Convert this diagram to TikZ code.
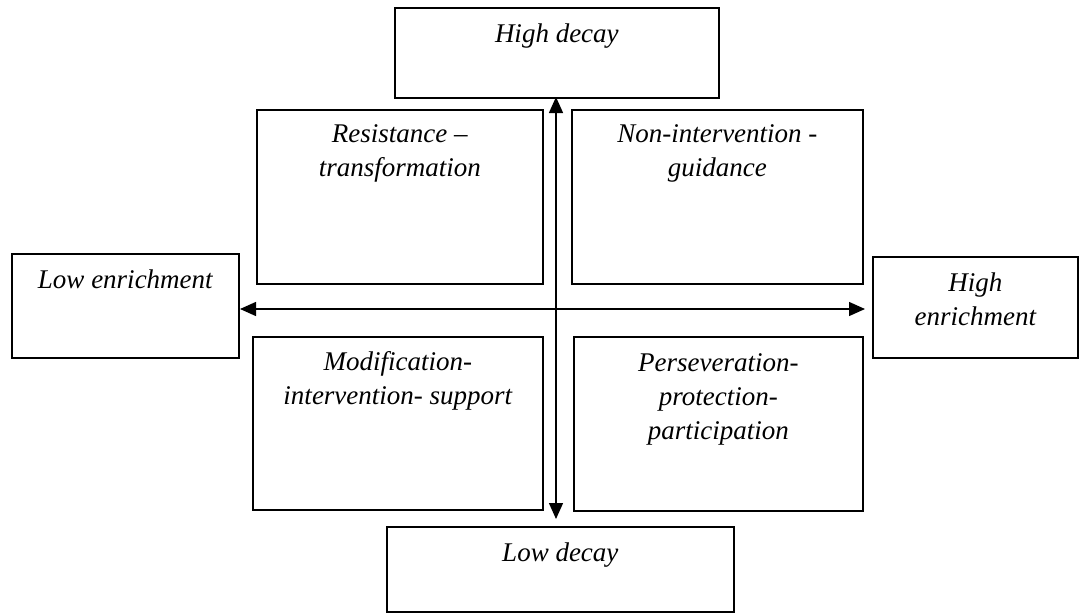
\documentclass[tikz,border=0pt]{standalone}
\usepackage{fontspec}
\setmainfont{Liberation Serif}
\usetikzlibrary{arrows.meta}
\begin{document}
\begin{tikzpicture}[x=1pt,y=-1pt,
 box/.style={draw, line width=1.7pt, inner sep=0pt, anchor=north west},
 lbl/.style={anchor=north, inner sep=0pt, align=center, font=\fontsize{27}{34}\selectfont\itshape},
 axis/.style={line width=1.4pt, {Triangle[length=16pt,width=14pt]}-{Triangle[length=16pt,width=14pt]}}]
\useasboundingbox (0,0) rectangle (1080,613);
% boxes
\node[box, minimum width=324pt, minimum height=90pt]  (top)  at (394,7)   {};
\node[box, minimum width=286pt, minimum height=174pt] (res)  at (256,109) {};
\node[box, minimum width=291pt, minimum height=174pt] (non)  at (571,109) {};
\node[box, minimum width=227pt, minimum height=104pt] (lowE) at (11,253)  {};
\node[box, minimum width=205pt, minimum height=101pt] (highE) at (872,256) {};
\node[box, minimum width=290pt, minimum height=173pt] (mod)  at (252,336) {};
\node[box, minimum width=289pt, minimum height=174pt] (per)  at (573,336) {};
\node[box, minimum width=347pt, minimum height=85pt]  (lowD) at (386,526) {};
% labels
\node[lbl] (topT)  at ([yshift=-11pt]top.north)  {\strut High decay};
\node[lbl] (resT)  at ([yshift=-9pt]res.north)  {\strut Resistance –\\transformation};
\node[lbl] (nonT)  at ([yshift=-9pt]non.north)  {\strut Non-intervention -\\guidance};
\node[lbl] (lowET) at ([yshift=-11pt]lowE.north) {\strut Low enrichment};
\node[lbl] (highET) at ([yshift=-11pt]highE.north) {\strut High\\enrichment};
\node[lbl] (modT)  at ([yshift=-10pt]mod.north)  {\strut Modification-\\intervention- support};
\node[lbl] (perT)  at ([yshift=-11pt]per.north)  {\strut Perseveration-\\protection-\\participation};
\node[lbl] (lowDT) at ([yshift=-11pt]lowD.north) {\strut Low decay};
% axes
\coordinate (vt) at (556,97);
\coordinate (vb) at (556,519);
\coordinate (hl) at (240,309);
\coordinate (hr) at (865,309);
\draw[axis] (vt) -- (vb);
\draw[axis] (hl) -- (hr);
\end{tikzpicture}
\end{document}
